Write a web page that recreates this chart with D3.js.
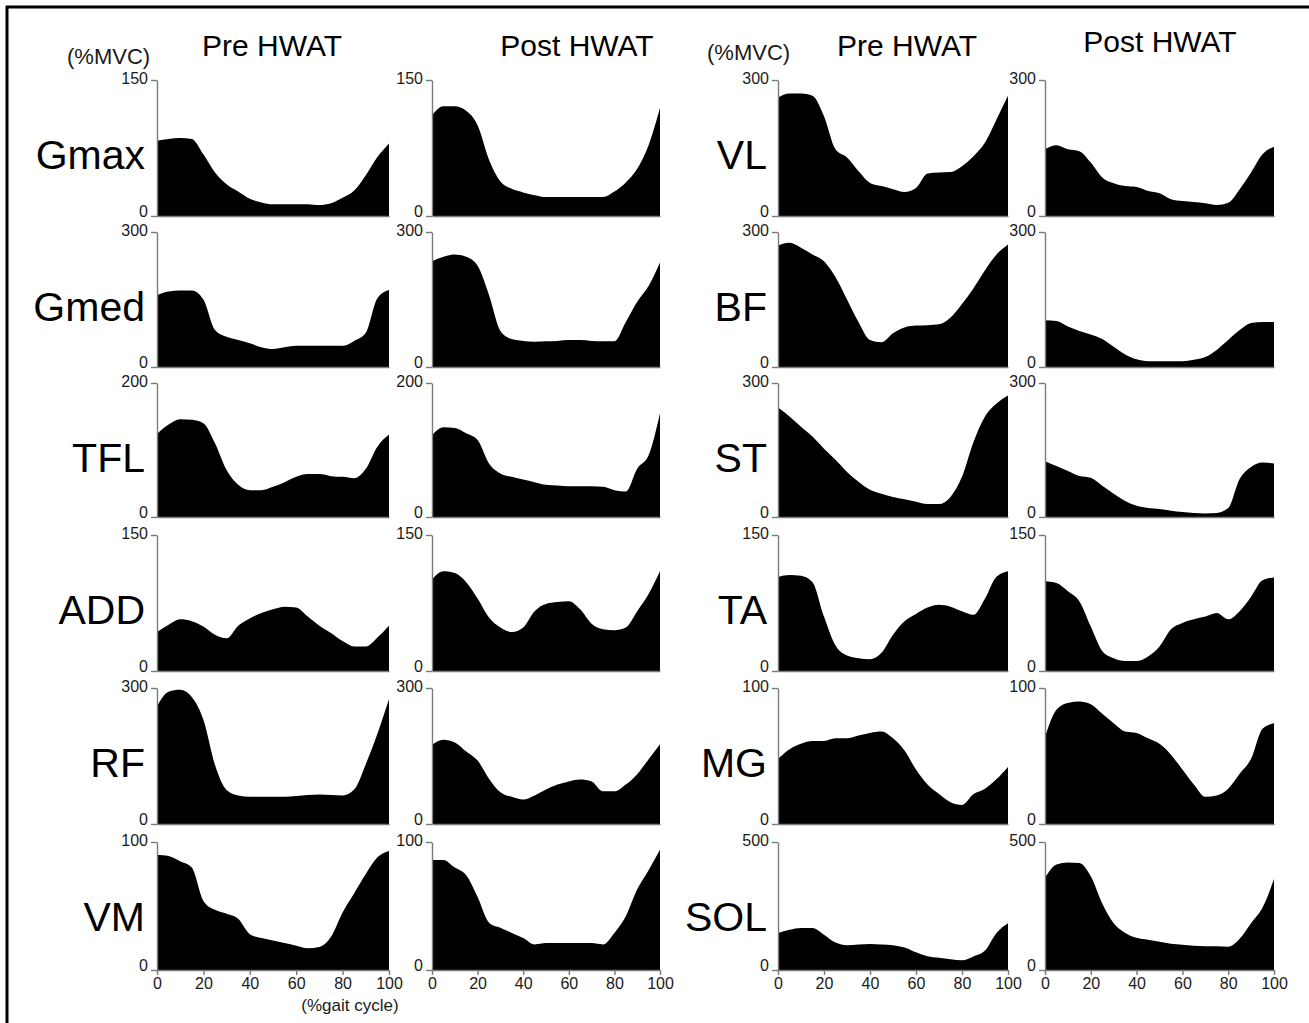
<!DOCTYPE html>
<html><head><meta charset="utf-8">
<script src="https://cdn.jsdelivr.net/npm/d3@7"></script>
<style>
body{margin:0;background:#fff}
svg{display:block}
text{font-family:"Liberation Sans",Arial,Helvetica,sans-serif}
</style>
</head><body>
<svg id="c" width="1309" height="1023"></svg>
<script>
// ---- data ----
const gait = d3.range(0, 101, 5); // % gait cycle sample points
const xTicks = [0, 20, 40, 60, 80, 100];
const conditions = ["Pre HWAT", "Post HWAT"];
const muscles = ["Gmax","Gmed","TFL","ADD","RF","VM","VL","BF","ST","TA","MG","SOL"];
const yMax    = [150, 300, 200, 150, 300, 100, 300, 300, 300, 150, 100, 500];

const GmaxPre  = [83,85,86,85,68,48,35,27,19,15,13,13,13,13,12,14,20,28,45,65,80];
const GmaxPost = [111,121,121,116,100,62,38,30,26,23,21,21,21,21,21,21,27,37,52,78,119];
const GmedPre  = [160,168,170,170,150,82,67,60,53,44,40,44,47,47,47,47,47,58,76,153,171];
const GmedPost = [235,245,250,245,225,160,80,62,58,56,57,58,60,60,58,57,57,100,145,180,232];
const TFLPre   = [124,138,146,145,140,110,70,48,40,40,45,52,60,64,64,61,60,58,72,105,123];
const TFLPost  = [122,134,133,125,115,80,65,60,56,52,48,47,46,46,46,45,40,38,72,92,155];
const ADDPre   = [43,51,57,55,49,40,36,50,58,64,68,71,70,60,50,42,33,27,27,37,50];
const ADDPost  = [101,110,108,98,80,59,48,43,48,66,74,76,77,68,52,46,45,48,66,85,110];
const RFPre    = [260,292,296,280,230,130,75,63,60,60,60,60,62,64,65,64,63,76,132,199,275];
const RFPost   = [175,186,180,160,140,100,70,60,54,63,76,87,94,98,94,72,72,87,110,143,176];
const VMPre    = [90,89,85,80,54,47,44,40,28,25,23,21,19,17,18,26,45,60,75,88,93];
const VMPost   = [86,86,80,74,57,37,33,29,25,20,21,21,21,21,21,20,29,42,63,78,94];
const VLPre    = [261,270,270,265,220,147,129,99,73,66,59,53,62,94,96,97,110,132,162,213,265];
const VLPost   = [147,156,147,143,118,85,72,66,64,55,50,37,33,31,28,24,29,59,96,136,153];
const BFPre    = [270,276,265,250,235,200,150,100,60,55,75,88,92,93,95,110,140,175,215,250,272];
const BFPost   = [104,102,90,80,72,62,45,28,17,13,13,13,13,16,22,38,60,82,98,100,100];
const STPre    = [245,225,202,180,153,128,101,79,61,52,45,40,34,29,29,45,90,168,225,254,272];
const STPost   = [125,114,103,92,88,70,52,36,25,20,18,14,11,9,8,9,20,85,112,122,120];
const TAPre    = [104,106,105,98,60,28,17,14,13,20,40,55,63,70,73,71,66,62,80,104,110];
const TAPost   = [99,97,88,77,49,22,14,11,11,16,27,46,53,57,60,64,57,66,82,100,103];
const MGPre    = [48,55,59,61,61,63,63,65,67,68,63,54,40,29,22,16,14,22,26,33,42];
const MGPost   = [64,84,89,90,88,81,74,68,67,63,59,51,40,29,20,21,26,37,48,70,74];
const SOLPre   = [145,157,164,164,138,107,97,100,102,100,97,88,69,54,48,42,38,53,76,145,183];
const SOLPost  = [360,412,420,418,366,260,183,145,126,118,110,103,99,95,93,93,91,122,183,244,355];

const series = {
  Gmax:[GmaxPre,GmaxPost], Gmed:[GmedPre,GmedPost], TFL:[TFLPre,TFLPost],
  ADD:[ADDPre,ADDPost], RF:[RFPre,RFPost], VM:[VMPre,VMPost],
  VL:[VLPre,VLPost], BF:[BFPre,BFPost], ST:[STPre,STPost],
  TA:[TAPre,TAPost], MG:[MGPre,MGPost], SOL:[SOLPre,SOLPost]
};

// ---- layout ----
const colX = [[157,389],[432,660],[778,1008],[1045,1274]];
const rowTop = [80,232,383,535,688,842];
const rowBot = [216,367,517,671,824,970];
const axisColor = "#7a7a7a";
const textColor = "#1a1a1a";

const svg = d3.select("#c");

// frame (left and top edges)
svg.append("line").attr("x1",7).attr("y1",6).attr("x2",7).attr("y2",1023)
  .attr("stroke","#000").attr("stroke-width",3);
svg.append("line").attr("x1",6).attr("y1",7).attr("x2",1309).attr("y2",7)
  .attr("stroke","#000").attr("stroke-width",3);

muscles.forEach((m, i) => {
  const grp = Math.floor(i / 6), row = i % 6;
  conditions.forEach((cond, c) => {
    const [x0, x1] = colX[grp * 2 + c];
    const x = d3.scaleLinear().domain([0, 100]).range([x0, x1]);
    const y = d3.scaleLinear().domain([0, yMax[i]]).range([rowBot[row], rowTop[row]]);
    const g = svg.append("g");
    const area = d3.area()
      .x((d, k) => x(gait[k]))
      .y0(y(0)).y1(d => y(d))
      .curve(d3.curveMonotoneX);
    g.append("path").datum(series[m][c]).attr("d", area).attr("fill", "#000");

    const ya = g.append("g").attr("transform", `translate(${x0},0)`)
      .call(d3.axisLeft(y).tickValues([0, yMax[i]]).tickSize(6).tickSizeOuter(0).tickPadding(3));
    const xa = g.append("g").attr("transform", `translate(0,${rowBot[row]})`)
      .call(d3.axisBottom(x).tickValues(row === 5 ? xTicks : []).tickSize(row === 5 ? 5 : 0)
        .tickSizeOuter(0).tickPadding(3));
    [ya, xa].forEach(a => {
      a.select(".domain").attr("stroke", axisColor).attr("stroke-width", 1.4);
      a.selectAll(".tick line").attr("stroke", axisColor).attr("stroke-width", 1.4);
      a.selectAll(".tick text").attr("fill", textColor).style("font-size", "16px")
        .style("font-family", '"Liberation Sans",Arial,sans-serif');
    });
    ya.selectAll(".tick text").attr("dy", d => d === 0 ? "0.02em" : "0.2em");
  });
  // muscle label
  svg.append("text")
    .attr("x", grp === 0 ? 145 : 767)
    .attr("y", rowTop[row] + 89)
    .attr("text-anchor", "end")
    .attr("fill", "#000")
    .style("font-size", "41px")
    .text(m);
});

// column headers
const headers = [
  {t: conditions[0], x: 272, y: 56},
  {t: conditions[1], x: 577, y: 56},
  {t: conditions[0], x: 907, y: 56},
  {t: conditions[1], x: 1160, y: 52}
];
headers.forEach(h => svg.append("text").attr("x", h.x).attr("y", h.y)
  .attr("text-anchor", "middle").attr("fill", "#000").style("font-size", "30px").text(h.t));

// unit labels
svg.append("text").attr("x", 67).attr("y", 64).attr("fill", textColor)
  .style("font-size", "22px").text("(%MVC)");
svg.append("text").attr("x", 707).attr("y", 60).attr("fill", textColor)
  .style("font-size", "22px").text("(%MVC)");
svg.append("text").attr("x", 350).attr("y", 1011).attr("text-anchor", "middle")
  .attr("fill", textColor).style("font-size", "17px").text("(%gait cycle)");
</script>
</body></html>
